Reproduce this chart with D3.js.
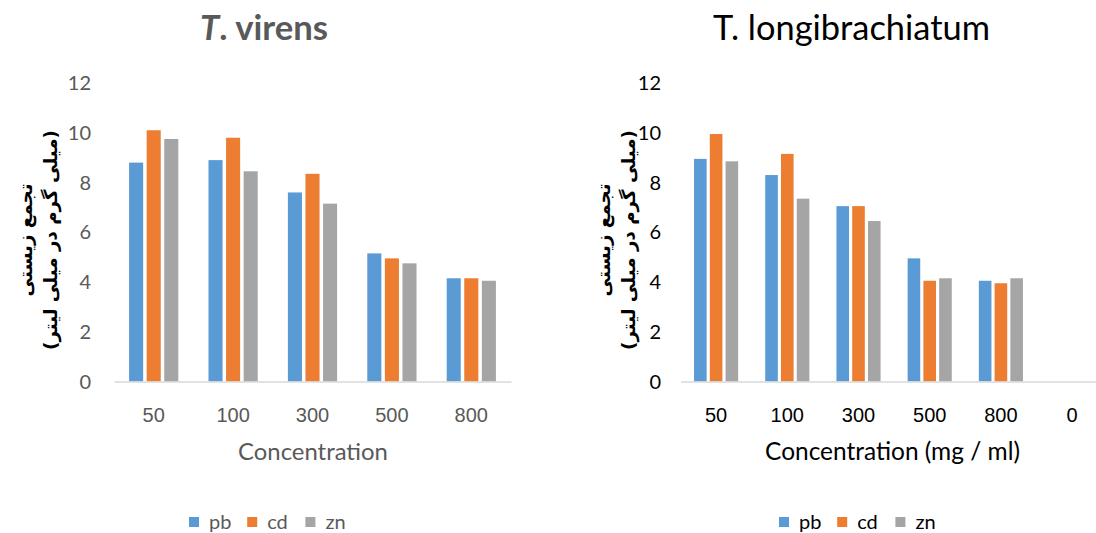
<!DOCTYPE html>
<html>
<head>
<meta charset="utf-8">
<script src="https://cdn.jsdelivr.net/npm/d3@7"></script>
<style>
  body { margin: 0; background: #fff; }
  svg { display: block; font-family: Lato, "Open Sans", sans-serif; }
</style>
</head>
<body>
<div id="chart"></div>
<script>
// data
const seriesNames = ["pb", "cd", "zn"];
const seriesColors = ["#5B9BD5", "#ED7D31", "#A5A5A5"];
const yTicks = [0, 2, 4, 6, 8, 10, 12];

const virensCats = ["50", "100", "300", "500", "800"];
const virensPb = [8.8, 8.9, 7.6, 5.15, 4.15];
const virensCd = [10.1, 9.8, 8.35, 4.95, 4.15];
const virensZn = [9.75, 8.45, 7.15, 4.75, 4.05];

const longiCats = ["50", "100", "300", "500", "800", "0"];
const longiPb = [8.95, 8.3, 7.05, 4.95, 4.05, null];
const longiCd = [9.95, 9.15, 7.05, 4.05, 3.95, null];
const longiZn = [8.85, 7.35, 6.45, 4.15, 4.15, null];

const yLine1 = "تجمع زیستی";
const yLine2 = "(میلی گرم در میلی لیتر)";

const W = 1096, H = 533;
const svg = d3.select("#chart").append("svg")
    .attr("width", W)
    .attr("height", H);

// scale font size so the text gets the width seen in the picture
function fitWidth(sel, target) {
    const fs = parseFloat(sel.attr("font-size"));
    const len = sel.node().getComputedTextLength();
    if (len > 0) sel.attr("font-size", fs * target / len);
    return sel;
}

function drawChart(cfg) {
    const g = svg.append("g");
    const x = d3.scaleBand().domain(cfg.cats).range(cfg.xRange);
    const y = d3.scaleLinear([0, 12], [381.5, 83]);
    const bw = x.bandwidth();
    const inner = d3.scaleBand()
        .domain(seriesNames)
        .range([bw * 0.19, bw * 0.81])
        .paddingInner(0.2);

    // title
    const title = g.append("text")
        .attr("x", cfg.titleX)
        .attr("y", 40)
        .attr("text-anchor", "middle")
        .attr("fill", cfg.color)
        .attr("font-size", 30)
        .attr("font-weight", cfg.titleBold ? "bold" : "normal");
    if (cfg.italicT) {
        title.append("tspan").attr("font-style", "italic").text("T");
        title.append("tspan").text(". virens");
    } else {
        title.text(cfg.title);
    }
    fitWidth(title, cfg.titleW);

    // y tick labels (no axis line, like excel)
    g.selectAll(".ytick")
        .data(yTicks)
        .join("text")
        .attr("class", "ytick")
        .attr("x", cfg.tickX)
        .attr("y", d => y(d))
        .attr("dy", "0.36em")
        .attr("text-anchor", "end")
        .attr("font-size", 20)
        .attr("fill", cfg.color)
        .text(d => d);

    // bars
    const rows = cfg.cats.map((c, i) => ({cat: c, vals: cfg.values.map(v => v[i])}));
    const groups = g.selectAll(".grp")
        .data(rows)
        .join("g")
        .attr("class", "grp")
        .attr("transform", d => `translate(${x(d.cat)},0)`);
    groups.selectAll("rect")
        .data(d => d.vals.map((v, j) => ({s: seriesNames[j], v: v, j: j})).filter(e => e.v != null))
        .join("rect")
        .attr("x", d => inner(d.s))
        .attr("width", inner.bandwidth())
        .attr("y", d => y(d.v))
        .attr("height", d => y(0) - y(d.v))
        .attr("fill", d => seriesColors[d.j]);

    // x axis
    const xAxis = d3.axisBottom(x).tickSize(0).tickSizeOuter(0);
    const ax = g.append("g")
        .attr("transform", `translate(0,${y(0)})`)
        .call(xAxis);
    ax.select(".domain").attr("stroke", "#D9D9D9").attr("stroke-width", 1.5);
    ax.selectAll(".tick text")
        .attr("y", 40)
        .attr("dy", null)
        .attr("font-size", 20)
        .attr("font-family", null)
        .attr("fill", cfg.color);

    // x title
    const xt = g.append("text")
        .attr("x", cfg.xTitleX)
        .attr("y", 460)
        .attr("text-anchor", "middle")
        .attr("font-size", 22)
        .attr("fill", cfg.color)
        .text(cfg.xTitle);
    fitWidth(xt, cfg.xTitleW);

    // y title (two lines, rotated)
    const yt = g.append("g")
        .attr("transform", `translate(${cfg.yTitleX},240) rotate(-90)`);
    const ylines = yt.selectAll("text")
        .data([yLine1, yLine2])
        .join("text")
        .attr("x", 0)
        .attr("y", (d, i) => i * 25)
        .attr("dy", "0.35em")
        .attr("text-anchor", "middle")
        .attr("direction", "rtl")
        .attr("font-family", "'DejaVu Sans', 'Noto Sans', sans-serif")
        .attr("font-weight", "bold")
        .attr("font-size", 21)
        .attr("fill", "#000")
        .text(d => d);
    const fs2 = 21 * 220 / ylines.filter((d, i) => i === 1).node().getComputedTextLength();
    ylines.attr("font-size", fs2);

    // legend
    const leg = g.selectAll(".leg")
        .data(seriesNames)
        .join("g")
        .attr("class", "leg")
        .attr("transform", (d, i) => `translate(${cfg.legendX + i * 58.2},517)`);
    leg.append("rect")
        .attr("width", 10)
        .attr("height", 10)
        .attr("fill", (d, i) => seriesColors[i]);
    leg.append("text")
        .attr("x", 20)
        .attr("y", 5)
        .attr("dy", "0.36em")
        .attr("font-size", 20)
        .attr("fill", cfg.color)
        .text(d => d);
}

drawChart({
    cats: virensCats,
    values: [virensPb, virensCd, virensZn],
    xRange: [114, 511],
    color: "#595959",
    title: "T. virens",
    italicT: true,
    titleBold: true,
    titleX: 264,
    titleW: 128,
    tickX: 91,
    xTitle: "Concentration",
    xTitleX: 313,
    xTitleW: 150,
    yTitleX: 26,
    legendX: 189
});

drawChart({
    cats: longiCats,
    values: [longiPb, longiCd, longiZn],
    xRange: [680.5, 680.5 + 71.2 * 6],
    color: "#000",
    title: "T. longibrachiatum",
    italicT: false,
    titleBold: false,
    titleX: 851.5,
    titleW: 277,
    tickX: 661,
    xTitle: "Concentration (mg / ml)",
    xTitleX: 892.5,
    xTitleW: 255,
    yTitleX: 604,
    legendX: 779
});
</script>
</body>
</html>
